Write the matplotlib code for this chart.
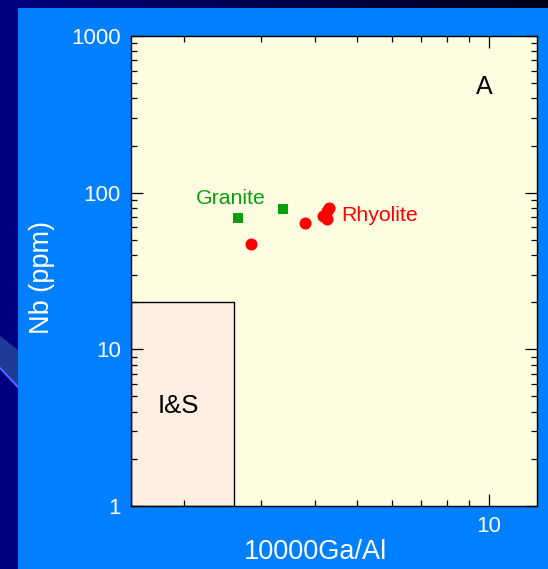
import numpy as np
import matplotlib
matplotlib.use('Agg')
import matplotlib.pyplot as plt
from matplotlib.patches import Rectangle, Polygon
from matplotlib.colors import LinearSegmentedColormap
from matplotlib.ticker import LogLocator, NullFormatter, FixedLocator

plt.rcParams['font.family'] = ['Liberation Sans', 'DejaVu Sans']

# Data
granite_x = [2.66, 3.37]
granite_y = [69, 79]
rhyolite_x = [2.85, 3.79, 4.30, 4.17, 4.26, 4.25]
rhyolite_y = [47, 64, 80, 71, 68, 76]
is_box = (2.6, 20)          # I&S field: x upper limit, y upper limit
x_lim = (1.51, 12.9)
y_lim = (1, 1000)

W, H = 548, 569
fig = plt.figure(figsize=(W / 100, H / 100), dpi=100)
fig.patch.set_facecolor('#000080')

# slide background in a full-figure axes (pixel coords, y downwards)
bg = fig.add_axes([0, 0, 1, 1], zorder=-10)
bg.axis('off')
cmap = LinearSegmentedColormap.from_list('strip', ['#000080', '#000018'])
bg.imshow(np.linspace(0, 1, 256)[None, :], aspect='auto', cmap=cmap, extent=(0, W, 8, 0))
bg.add_patch(Rectangle((18, 8), W - 18, H - 8, facecolor='#0080FF', edgecolor='none'))
bg.add_patch(Polygon([(0, 336), (18, 350), (18, 387), (0, 368)], closed=True,
                     facecolor='#203a9a', edgecolor='none'))
bg.plot([0, 18], [368, 387], color='#4a6cff', lw=1.5)
bg.set_xlim(0, W)
bg.set_ylim(H, 0)

ax = fig.add_axes([130.7 / W, 1 - 506 / H, (537 - 130.7) / W, (506 - 36) / H])
ax.set_facecolor('#FFFDE1')
ax.set_xscale('log')
ax.set_yscale('log')
ax.set_xlim(*x_lim)
ax.set_ylim(*y_lim)

ax.add_patch(Rectangle((x_lim[0], y_lim[0]), is_box[0] - x_lim[0], is_box[1] - y_lim[0],
                       facecolor='#FDEFE2', edgecolor='black', lw=1.0, zorder=1))

ax.scatter(granite_x, granite_y, marker='s', s=62, color='#0A9E0A', zorder=3, linewidths=0)
ax.scatter(rhyolite_x, rhyolite_y, marker='o', s=75, color='#FF0000', zorder=3, linewidths=0)

ax.text(2.56, 92, 'Granite', color='#0A9E0A', fontsize=15.3, ha='center', va='center')
ax.text(4.6, 71.5, 'Rhyolite', color='#FF0000', fontsize=15.3, ha='left', va='center')
ax.text(9.75, 470, 'A', color='black', fontsize=18, ha='center', va='center')
ax.text(1.94, 4.35, 'I&S', color='black', fontsize=18.5, ha='center', va='center')

ax.xaxis.set_major_locator(FixedLocator([10]))
ax.xaxis.set_minor_locator(LogLocator(base=10, subs=np.arange(2, 10)))
ax.xaxis.set_minor_formatter(NullFormatter())
ax.set_xticklabels(['10'])
ax.yaxis.set_major_locator(FixedLocator([1, 10, 100, 1000]))
ax.yaxis.set_minor_locator(LogLocator(base=10, subs=np.arange(2, 10)))
ax.yaxis.set_minor_formatter(NullFormatter())
ax.set_yticklabels(['1', '10', '100', '1000'])

ax.tick_params(which='both', direction='in', top=True, right=True, color='black', width=0.9)
ax.tick_params(which='major', length=8.5, labelsize=16, labelcolor='white', pad=7)
ax.tick_params(which='minor', length=4)
for sp in ax.spines.values():
    sp.set_color('black')
    sp.set_linewidth(1.0)

ax.set_xlabel('10000Ga/Al', color='white', fontsize=19.5)
ax.xaxis.set_label_coords((316 - 130.7) / (537 - 130.7), -(552 - 506) / (506 - 36))
ax.xaxis.label.set_va('center')
ax.set_ylabel('Nb (ppm)', color='white', fontsize=19.5)
ax.yaxis.set_label_coords(-(130.7 - 42) / (537 - 130.7), (506 - 277) / (506 - 36))
ax.yaxis.label.set_va('center')

fig.savefig('out.png', dpi=100, facecolor=fig.get_facecolor())
